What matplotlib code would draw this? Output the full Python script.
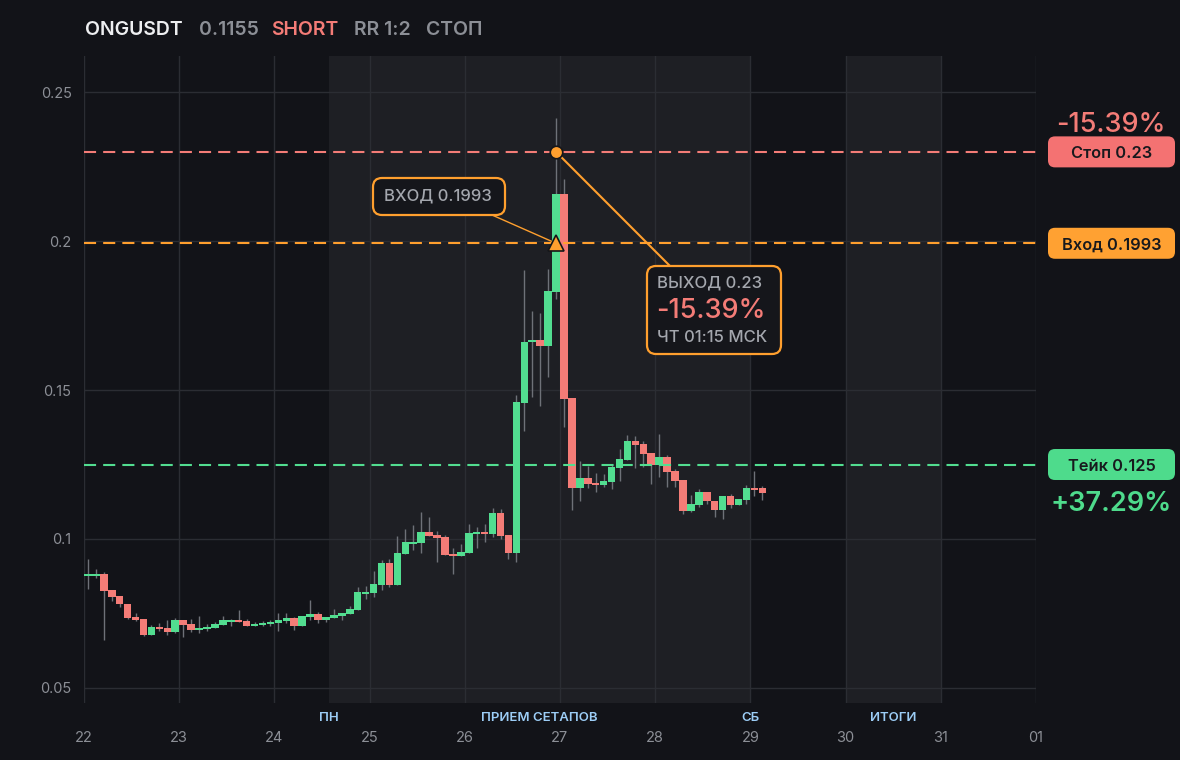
import matplotlib
matplotlib.use("Agg")
import matplotlib.pyplot as plt
from matplotlib.patches import FancyBboxPatch
from matplotlib.lines import Line2D

# ---------------- data ----------------
opens = [0.0876, 0.0877, 0.0883, 0.0829, 0.0809, 0.0782, 0.0739, 0.0731, 0.0678, 0.0705,
         0.0701, 0.0688, 0.0728, 0.0715, 0.0694, 0.0698, 0.0701, 0.0711, 0.0722, 0.0728,
         0.0725, 0.0708, 0.0711, 0.0715, 0.0718, 0.0725, 0.0735, 0.0708, 0.0738, 0.0748,
         0.0728, 0.0735, 0.0741, 0.0748, 0.0762, 0.0815, 0.0819, 0.0846, 0.0919, 0.0846,
         0.0950, 0.0983, 0.0987, 0.1024, 0.1013, 0.1007, 0.0950, 0.0943, 0.0953, 0.1017,
         0.1024, 0.1017, 0.1088, 0.1013, 0.0953, 0.1457, 0.1662, 0.1669, 0.1648, 0.1830,
         0.2159, 0.1473, 0.1171, 0.1205, 0.1188, 0.1181, 0.1192, 0.1238, 0.1265, 0.1329,
         0.1319, 0.1289, 0.1249, 0.1275, 0.1228, 0.1198, 0.1094, 0.1114, 0.1158, 0.1128,
         0.1097, 0.1144, 0.1114, 0.1131, 0.1171, 0.1171]
highs = [0.0933, 0.0899, 0.0889, 0.0829, 0.0809, 0.0782, 0.0752, 0.0731, 0.0712, 0.0718,
         0.0728, 0.0735, 0.0728, 0.0731, 0.0742, 0.0715, 0.0721, 0.0742, 0.0731, 0.0762,
         0.0731, 0.0721, 0.0725, 0.0728, 0.0752, 0.0752, 0.0738, 0.0742, 0.0795, 0.0755,
         0.0738, 0.0765, 0.0752, 0.0775, 0.0839, 0.0842, 0.0893, 0.0929, 0.0933, 0.1010,
         0.1034, 0.1047, 0.1091, 0.1074, 0.1027, 0.1013, 0.0970, 0.0983, 0.1050, 0.1040,
         0.1050, 0.1104, 0.1101, 0.1013, 0.1484, 0.1903, 0.1766, 0.1759, 0.1907, 0.2414,
         0.2209, 0.1473, 0.1262, 0.1245, 0.1222, 0.1218, 0.1249, 0.1302, 0.1349, 0.1346,
         0.1329, 0.1289, 0.1353, 0.1282, 0.1235, 0.1198, 0.1148, 0.1168, 0.1158, 0.1128,
         0.1144, 0.1151, 0.1134, 0.1181, 0.1228, 0.1178]
lows = [0.0833, 0.0870, 0.0661, 0.0790, 0.0773, 0.0732, 0.0724, 0.0674, 0.0678, 0.0691,
        0.0678, 0.0685, 0.0671, 0.0688, 0.0685, 0.0691, 0.0701, 0.0711, 0.0708, 0.0722,
        0.0708, 0.0708, 0.0708, 0.0708, 0.0691, 0.0718, 0.0694, 0.0708, 0.0728, 0.0718,
        0.0721, 0.0735, 0.0728, 0.0748, 0.0762, 0.0799, 0.0805, 0.0829, 0.0839, 0.0846,
        0.0950, 0.0963, 0.0953, 0.1010, 0.0923, 0.0946, 0.0883, 0.0943, 0.0953, 0.0970,
        0.0990, 0.1007, 0.1000, 0.0933, 0.0923, 0.1363, 0.1477, 0.1447, 0.1544, 0.1806,
        0.1376, 0.1098, 0.1128, 0.1171, 0.1158, 0.1175, 0.1168, 0.1195, 0.1265, 0.1238,
        0.1242, 0.1185, 0.1208, 0.1175, 0.1175, 0.1084, 0.1091, 0.1108, 0.1118, 0.1074,
        0.1067, 0.1104, 0.1114, 0.1118, 0.1144, 0.1131]
closes = [0.0879, 0.0883, 0.0826, 0.0806, 0.0780, 0.0736, 0.0729, 0.0678, 0.0705, 0.0698,
          0.0688, 0.0728, 0.0711, 0.0694, 0.0701, 0.0705, 0.0715, 0.0728, 0.0728, 0.0722,
          0.0708, 0.0715, 0.0718, 0.0721, 0.0728, 0.0735, 0.0708, 0.0742, 0.0748, 0.0728,
          0.0738, 0.0745, 0.0752, 0.0765, 0.0822, 0.0822, 0.0849, 0.0919, 0.0846, 0.0953,
          0.0990, 0.0990, 0.1024, 0.1010, 0.1003, 0.0946, 0.0943, 0.0956, 0.1020, 0.1024,
          0.1017, 0.1088, 0.1010, 0.0953, 0.1461, 0.1662, 0.1669, 0.1648, 0.1833, 0.2159,
          0.1471, 0.1171, 0.1205, 0.1185, 0.1181, 0.1195, 0.1242, 0.1269, 0.1329, 0.1316,
          0.1286, 0.1249, 0.1275, 0.1225, 0.1195, 0.1094, 0.1118, 0.1158, 0.1128, 0.1097,
          0.1144, 0.1114, 0.1134, 0.1171, 0.1165, 0.1154]

start_day = 22
candles_per_day = 12

day_ticks = [22, 23, 24, 25, 26, 27, 28, 29, 30, 31, 32]
day_labels = ["22", "23", "24", "25", "26", "27", "28", "29", "30", "31", "01"]
price_ticks = [0.05, 0.10, 0.15, 0.20, 0.25]
price_labels = ["0.05", "0.1", "0.15", "0.2", "0.25"]

symbol = "ONGUSDT"
last_price = "0.1155"
side = "SHORT"
rr_text = "RR 1:2"
status = "СТОП"

entry_price = 0.1993
stop_price = 0.23
take_price = 0.125
entry_idx = 59
exit_idx = 59
stop_pct = "-15.39%"
take_pct = "+37.29%"
exit_time = "ЧТ 01:15 МСК"

bands = [(24.57, 29.0), (30.0, 31.0)]
band_names = ["ПН", "ПРИЕМ СЕТАПОВ", "СБ", "ИТОГИ"]
band_name_x = [24.57, 26.785, 29.0, 30.5]

# ---------------- style ----------------
BG = "#121318"
BAND = "#1e1f24"
GRID = "#2b2d33"
TXT = "#8c8f96"
GREEN = "#52dd90"
RED = "#f47c77"
ORANGE = "#ff9f2e"
WICK = "#6e7178"
BLUE = "#9ccdf6"

plt.rcParams['font.family'] = ['Inter', 'DejaVu Sans']

W, H = 1180, 760
fig = plt.figure(figsize=(W / 100, H / 100), dpi=100, facecolor=BG)
ax = fig.add_axes([84 / W, 57 / H, 952 / W, 647 / H])
ax.set_facecolor(BG)
ax.set_xlim(22, 32)
ax.set_ylim(0.0449, 0.2622)
for s in ax.spines.values():
    s.set_visible(False)

for a, b in bands:
    ax.axvspan(a, b, color=BAND, zorder=0, lw=0)

ax.set_xticks(day_ticks)
ax.set_xticklabels(day_labels)
ax.set_yticks(price_ticks)
ax.set_yticklabels(price_labels)
ax.tick_params(axis='x', length=0, pad=20, labelsize=10.5, labelcolor=TXT)
ax.tick_params(axis='y', length=0, pad=9, labelsize=10.5, labelcolor=TXT)
ax.grid(True, color=GRID, lw=1.0, zorder=1)
ax.set_axisbelow(True)

# candles
n = len(opens)
xs = [start_day + (i + 0.5) / candles_per_day for i in range(n)]
ax.vlines(xs, lows, highs, color=WICK, lw=1.0, zorder=3)
min_h = 0.0006
for x, o, h, l, c in zip(xs, opens, highs, lows, closes):
    col = GREEN if c >= o else RED
    bot = min(o, c)
    hgt = max(abs(c - o), min_h)
    ax.bar(x, hgt, bottom=bot, width=0.95 / candles_per_day, color=col, lw=0, zorder=4)

# level lines
dash = (0, (5.8, 3.4))
ax.axhline(stop_price, color=RED, lw=1.5, ls=dash, zorder=5)
ax.axhline(entry_price, color=ORANGE, lw=1.5, ls=dash, zorder=5)
ax.axhline(take_price, color=GREEN, lw=1.5, ls=dash, zorder=5)

# band labels
for name, bx in zip(band_names, band_name_x):
    ax.text(bx, -0.0235, name, transform=ax.get_xaxis_transform(), ha='center', va='center',
            color=BLUE, fontsize=9.5, fontweight='semibold', clip_on=False)

# ---------------- annotations ----------------
T = fig.dpi_scale_trans


def P(x, ytop):
    return x / 100, (H - ytop) / 100


ex_x = xs[entry_idx]
xx_x = xs[exit_idx]
entry_disp = ax.transData.transform((ex_x, entry_price))
exit_disp = ax.transData.transform((xx_x, stop_price))

# connector lines
ax.add_line(Line2D([492 / 100, entry_disp[0] / 100], [(H - 215) / 100, entry_disp[1] / 100],
                   transform=T, color=ORANGE, lw=1.0, zorder=6, clip_on=False))
ax.add_line(Line2D([exit_disp[0] / 100, 670 / 100], [exit_disp[1] / 100, (H - 266) / 100],
                   transform=T, color=ORANGE, lw=1.5, zorder=6, clip_on=False))

ax.plot(ex_x, entry_price, marker='^', ms=12, mfc=ORANGE, mec='#15161a', mew=1.2, zorder=7)
ax.plot(xx_x, stop_price, marker='o', ms=9, mfc=ORANGE, mec='#15161a', mew=1.2, zorder=7)

# entry box
x0, y0 = P(373, 215)
ax.add_patch(FancyBboxPatch((x0, y0), 132 / 100, 37 / 100, boxstyle="round,pad=0,rounding_size=0.09",
                            transform=T, fc="#15161b", ec=ORANGE, lw=1.6, zorder=8, clip_on=False))
ax.text(*P(384, 196), f"ВХОД {entry_price:.4f}", transform=T, ha='left', va='center',
        color="#a4a7ae", fontsize=12, fontweight='medium', zorder=9)

# exit box
x0, y0 = P(647, 354)
ax.add_patch(FancyBboxPatch((x0, y0), 134 / 100, 88 / 100, boxstyle="round,pad=0,rounding_size=0.09",
                            transform=T, fc="#15161b", ec=ORANGE, lw=1.6, zorder=8, clip_on=False))
ax.text(*P(657, 283), f"ВЫХОД {stop_price:.2f}", transform=T, ha='left', va='center',
        color="#a4a7ae", fontsize=12, fontweight='medium', zorder=9)
ax.text(*P(656, 311), stop_pct, transform=T, ha='left', va='center',
        color=RED, fontsize=19.5, fontweight='medium', zorder=9)
ax.text(*P(657, 338), exit_time, transform=T, ha='left', va='center',
        color="#a4a7ae", fontsize=12, fontweight='medium', zorder=9)

# right price labels
for val, txt, col in [(stop_price, f"Стоп {stop_price:.2f}", "#f47272"),
                      (entry_price, f"Вход {entry_price:.4f}", "#ffa132"),
                      (take_price, f"Тейк {take_price:.3f}", "#4edb8c")]:
    yd = ax.transData.transform((22, val))[1]
    p = FancyBboxPatch((1048 / 100, (yd - 15.5) / 100), 127 / 100, 31 / 100,
                       boxstyle="round,pad=0,rounding_size=0.07", transform=T, fc=col, ec='none')
    fig.add_artist(p)
    fig.text(1111.5 / 100, yd / 100, txt, transform=T, ha='center', va='center_baseline',
             color="#18191d", fontsize=11.8, fontweight='semibold')

yd_stop = ax.transData.transform((22, stop_price))[1]
yd_take = ax.transData.transform((22, take_price))[1]
fig.text(1111 / 100, (yd_stop + 30) / 100, stop_pct, transform=T, ha='center', va='center_baseline',
         color=RED, fontsize=19.5, fontweight='medium')
fig.text(1111.5 / 100, (yd_take - 36) / 100, take_pct, transform=T, ha='center', va='center_baseline',
         color="#4edb8c", fontsize=19.5, fontweight='semibold')

# title
title_parts = [(symbol, "#eeeff1", 85), (last_price, TXT, 199), (side, RED, 271),
               (rr_text, TXT, 354), (status, TXT, 426)]
for txt, col, x in title_parts:
    fig.text(x / 100, (H - 28) / 100, txt, transform=T, ha='left', va='center_baseline',
             color=col, fontsize=14, fontweight='semibold')

fig.savefig("out.png", dpi=100, facecolor=BG)
